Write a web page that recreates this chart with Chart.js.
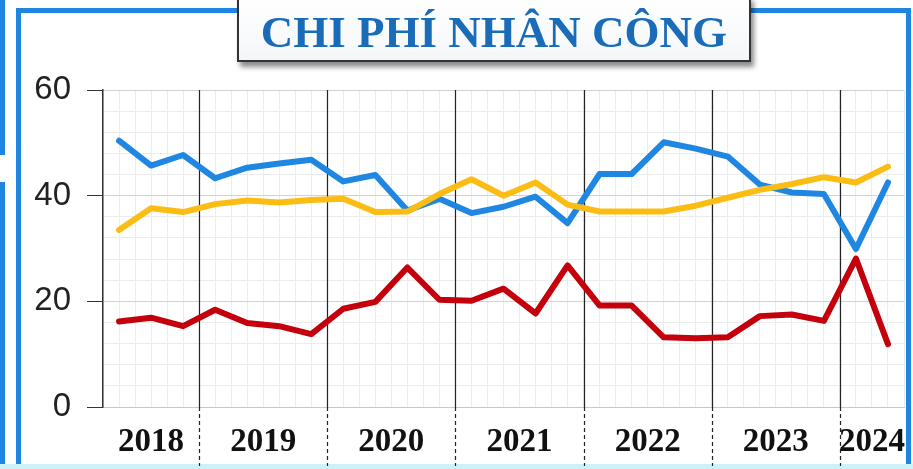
<!DOCTYPE html>
<html>
<head>
<meta charset="utf-8">
<script src="https://cdn.jsdelivr.net/npm/chart.js@4.4.1/dist/chart.umd.min.js"></script>
<style>
  html, body { margin: 0; padding: 0; background: #fff; }
  #wrap { position: relative; width: 913px; height: 469px; overflow: hidden; background: #fff; }
  .edge { position: absolute; background: #1e86e2; }
  #frame { position: absolute; left: 16px; top: 8px; width: 885px; height: 470px;
    border: 5px solid #1e86e2; border-bottom: none; }
  #band { position: absolute; left: 0; top: 464px; width: 913px; height: 5px; background: #cdf3f8; }
  #title { position: absolute; left: 237px; top: -4px; width: 510px; height: 62px;
    border: 2px solid #333; background: linear-gradient(#fff, #f4f7fa);
    box-shadow: 3px 5px 5px rgba(0,0,0,.45);
    font: bold 45px "Liberation Serif", serif; color: #1a6cb8;
    text-align: center; line-height: 68px; white-space: nowrap; }
  canvas { position: absolute; left: 0; top: 0; }
</style>
</head>
<body>
<div id="wrap">
  <div class="edge" style="left:0;top:0;width:5px;height:155px"></div>
  <div class="edge" style="left:0;top:182px;width:5px;height:287px"></div>
  <div id="frame"></div>
  <div id="band"></div>
  <canvas id="c" width="913" height="469"></canvas>
  <div id="title">CHI PHÍ NHÂN CÔNG</div>
</div>
<script>
// quarterly values, Q2/2018 .. Q2/2024
const YEARS = ["2018", "2019", "2020", "2021", "2022", "2023", "2024"];
const QUARTERS_PER_YEAR = [3, 4, 4, 4, 4, 4, 2];
const Y_TICKS = [0, 20, 40, 60];

const BLUE = [50.4, 45.7, 47.7, 43.3, 45.3, 46.1, 46.8, 42.7, 43.9, 37.2, 39.4, 36.7, 37.9,
  39.8, 34.8, 44.1, 44.1, 50.1, 48.9, 47.4, 42.1, 40.6, 40.3, 29.9, 42.5];
const YELLOW = [33.5, 37.6, 36.9, 38.4, 39.1, 38.7, 39.2, 39.4, 36.9, 37.0, 40.3, 43.1, 40.0,
  42.5, 38.3, 37.0, 37.0, 37.0, 38.1, 39.6, 41.1, 42.2, 43.5, 42.5, 45.5];
const RED = [16.2, 16.9, 15.3, 18.4, 15.9, 15.3, 13.8, 18.6, 19.9, 26.4, 20.3, 20.1, 22.4,
  17.7, 26.8, 19.2, 19.2, 13.2, 13.0, 13.2, 17.2, 17.5, 16.3, 28.1, 11.9];

// year centres and boundaries in point-index units
const yearCentre = {};
const bounds = [];
let start = 0;
QUARTERS_PER_YEAR.forEach((n, i) => {
  yearCentre[start + (n - 1) / 2] = YEARS[i];
  start += n;
  if (i < YEARS.length - 1) bounds.push(start - 0.5);
});
const nPts = BLUE.length;

const pts = (arr) => arr.map((v, i) => ({ x: i, y: v }));
const ds = (label, arr, color) => ({
  label, data: pts(arr), borderColor: color, borderWidth: 6, pointRadius: 0,
  tension: 0, borderCapStyle: "round", borderJoinStyle: "round",
});

const separators = {
  id: "separators",
  beforeDatasetsDraw(chart) {
    const { ctx, chartArea } = chart;
    const xs = chart.scales.x;
    ctx.save();
    ctx.strokeStyle = "#222";
    ctx.lineWidth = 1.2;
    bounds.forEach((b) => {
      const px = Math.round(xs.getPixelForValue(b)) + 0.5;
      ctx.setLineDash([]);
      ctx.beginPath(); ctx.moveTo(px, chartArea.top); ctx.lineTo(px, chartArea.bottom); ctx.stroke();
      ctx.setLineDash([4, 3]);
      ctx.beginPath(); ctx.moveTo(px, chartArea.bottom); ctx.lineTo(px, 466); ctx.stroke();
    });
    ctx.restore();
  },
};

new Chart(document.getElementById("c"), {
  type: "line",
  data: {
    datasets: [
      ds("Giảm", RED, "#c3000c"),
      ds("Không đổi", YELLOW, "#fbbd14"),
      ds("Tăng", BLUE, "#1f87e2"),
    ],
  },
  options: {
    responsive: false,
    animation: false,
    layout: { padding: { top: 90, right: 9, bottom: 0, left: 0 } },
    plugins: { legend: { display: false }, tooltip: { enabled: false } },
    scales: {
      x: {
        type: "linear", min: -0.5, max: nPts - 0.5,
        afterBuildTicks: (s) => {
          const t = [];
          for (let v = -0.5; v <= nPts - 0.5 + 1e-9; v += 0.5) t.push({ value: v });
          s.ticks = t;
        },
        afterFit: (s) => { s.height = 62; s.paddingLeft = 0; s.paddingRight = 0; },
        grid: { color: "#ececec", lineWidth: 1, drawTicks: false },
        border: { color: "#c8c8c8" },
        ticks: {
          autoSkip: false, maxRotation: 0, padding: 16, color: "#111",
          font: { family: "'Liberation Serif', serif", size: 33, weight: "bold" },
          callback: (v) => yearCentre[v] || "",
        },
      },
      y: {
        min: 0, max: 60,
        afterBuildTicks: (s) => {
          const t = [];
          for (let v = 0; v <= 60; v += 4) t.push({ value: v });
          s.ticks = t;
        },
        afterFit: (s) => { s.width = 103; },
        grid: {
          color: (c) => (Y_TICKS.includes(c.tick.value) ? "#d2d2d2" : "#ececec"),
          tickColor: (c) => (Y_TICKS.includes(c.tick.value) ? "#333" : "rgba(0,0,0,0)"),
          tickLength: 16, lineWidth: 1,
        },
        border: { color: "#333", width: 1.5 },
        ticks: {
          autoSkip: false, padding: 16, color: "#222",
          font: { family: "'Liberation Sans', sans-serif", size: 33 },
          callback: (v) => (Y_TICKS.includes(v) ? String(v) : ""),
        },
      },
    },
  },
  plugins: [separators],
});
</script>
</body>
</html>
